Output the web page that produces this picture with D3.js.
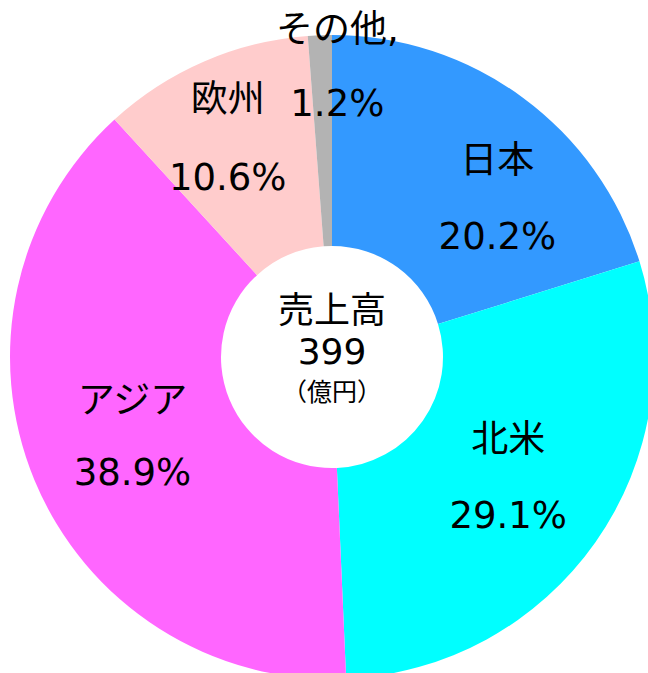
<!DOCTYPE html>
<html>
<head>
<meta charset="utf-8">
<script src="https://cdnjs.cloudflare.com/ajax/libs/d3/7.8.5/d3.min.js"></script>
<style>
  body { margin: 0; background: #fff; }
  text { font-family: "DejaVu Sans", "Noto Sans CJK JP", sans-serif; fill: #000; }
</style>
</head>
<body>
<div id="chart"></div>
<script>
// data
const regions = ["日本", "北米", "アジア", "欧州", "その他,"];
const shares = [20.2, 29.1, 38.9, 10.6, 1.2];
const colors = ["#3399ff", "#00ffff", "#ff66ff", "#ffcccc", "#b3b3b3"];
const totalLabel = ["売上高", "399", "（億円）"];

const width = 648, height = 673;
const cx = 332, cy = 357;
const outerR = 322, innerR = 111;

// small label nudges away from the arc centroid
const nudge = [[29, 27], [-12, -12], [13, -9], [-13, -7], [14, -61]];
const lineGap = [38, 38, 36, 39, 37];

let svg = d3.select("#chart").append("svg")
  .attr("width", width)
  .attr("height", height);

let g = svg.append("g")
  .attr("transform", "translate(" + cx + "," + cy + ")");

let data = regions.map((r, i) => ({ name: r, value: shares[i], color: colors[i], i: i }));

let pie = d3.pie()
  .sort(null)
  .value(d => d.value);

let arc = d3.arc()
  .innerRadius(innerR)
  .outerRadius(outerR);

let labelArc = d3.arc()
  .innerRadius(230)
  .outerRadius(230);

let arcs = pie(data);

g.selectAll(".slice")
  .data(arcs)
  .enter().append("path")
  .attr("class", "slice")
  .attr("d", arc)
  .attr("fill", d => d.data.color);

let labels = g.selectAll(".lbl")
  .data(arcs)
  .enter().append("g")
  .attr("class", "lbl")
  .attr("transform", d => {
    let c = labelArc.centroid(d);
    let n = nudge[d.data.i];
    return "translate(" + (c[0] + n[0]) + "," + (c[1] + n[1]) + ")";
  });

labels.append("text")
  .attr("text-anchor", "middle")
  .attr("dominant-baseline", "central")
  .attr("y", d => -lineGap[d.data.i])
  .style("font-size", "37px")
  .text(d => d.data.name);

labels.append("text")
  .attr("text-anchor", "middle")
  .attr("dominant-baseline", "central")
  .attr("y", d => lineGap[d.data.i])
  .style("font-size", "37px")
  .text(d => d3.format(".1f")(d.data.value) + "%");

// centre text
let center = g.append("g");
center.append("text")
  .attr("text-anchor", "middle")
  .attr("dominant-baseline", "central")
  .attr("y", -47)
  .style("font-size", "36px")
  .text(totalLabel[0]);
center.append("text")
  .attr("text-anchor", "middle")
  .attr("dominant-baseline", "central")
  .attr("y", -6)
  .style("font-size", "36px")
  .text(totalLabel[1]);
center.append("text")
  .attr("text-anchor", "middle")
  .attr("dominant-baseline", "central")
  .attr("y", 35)
  .style("font-size", "25px")
  .text(totalLabel[2]);
</script>
</body>
</html>
